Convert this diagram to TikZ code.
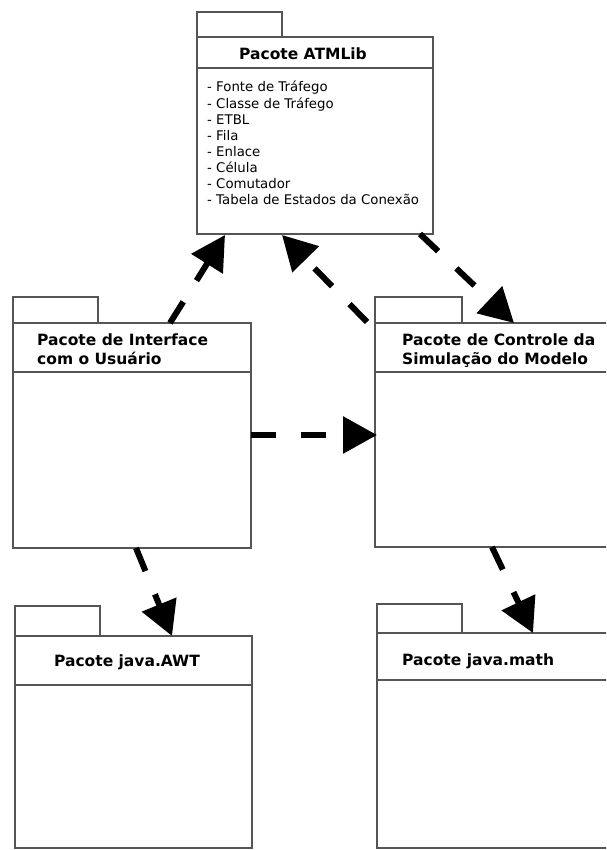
\documentclass[tikz,border=0pt]{standalone}
\usepackage{fontspec}
\setmainfont{DejaVu Sans}
\usetikzlibrary{arrows.meta}
\definecolor{boxgray}{HTML}{555555}

\begin{document}
\begin{tikzpicture}[x=1pt,y=-1pt,
  pkg/.style={draw=boxgray,line width=1.3pt,fill=white},
  sep/.style={draw=boxgray,line width=1.3pt},
  dep/.style={line width=6pt,dash pattern=on 25pt off 25pt,
    -{Triangle[length=34pt,width=36pt]}},
  ttl/.style={font=\bfseries\fontsize{15.5}{20}\selectfont,inner sep=0pt},
  itm/.style={font=\fontsize{13.3}{16}\selectfont,inner sep=0pt,anchor=base west}]

\clip (0,0) rectangle (606,850);
\fill[white] (0,0) rectangle (606,850);

% --- Pacote ATMLib ---
\draw[pkg] (197,12) rectangle (282,37);
\draw[pkg] (197,37) rectangle (433,234);
\draw[sep] (197,68) -- (433,68);
\node[ttl,anchor=base] (atmT) at (303,60) {Pacote ATMLib};
\foreach \t [count=\i from 0] in {Fonte de Tráfego,Classe de Tráfego,ETBL,Fila,Enlace,Célula,Comutador,Tabela de Estados da Conexão}
  \node[itm] (atmL\i) at (207,92+16.1*\i) {- \t};

% --- Pacote de Interface com o Usuário ---
\draw[pkg] (13,297) rectangle (98,323);
\draw[pkg] (13,323) rectangle (251,548);
\draw[sep] (13,372) -- (251,372);
\node[ttl,anchor=base west] (ifT1) at (37,345) {Pacote de Interface};
\node[ttl,anchor=base west] (ifT2) at (37,364) {com o Usuário};

% --- Pacote de Controle da Simulação do Modelo ---
\draw[pkg] (375,297) rectangle (462,323);
\draw[pkg] (375,323) rectangle (620,547);
\draw[sep] (375,372) -- (620,372);
\node[ttl,anchor=base west] (ctT1) at (402,345) {Pacote de Controle da};
\node[ttl,anchor=base west] (ctT2) at (402,364) {Simulação do Modelo};

% --- Pacote java.AWT ---
\draw[pkg] (15,606) rectangle (100,636);
\draw[pkg] (15,636) rectangle (252,848);
\draw[sep] (15,685) -- (252,685);
\node[ttl,anchor=base] (awtT) at (127,666) {Pacote java.AWT};

% --- Pacote java.math ---
\draw[pkg] (377,604) rectangle (462,633);
\draw[pkg] (377,633) rectangle (620,848);
\draw[sep] (377,680) -- (620,680);
\node[ttl,anchor=base west] (mthT) at (402,665) {Pacote java.math};

% --- connector end points ---
\coordinate (ifUp)   at (170,323);
\coordinate (atmIn1) at (225,235);
\coordinate (ctUp)   at (367,322);
\coordinate (atmIn2) at (282,235);
\coordinate (atmOut) at (420,234);
\coordinate (ctIn)   at (514,323);
\coordinate (ifRt)   at (251,435);
\coordinate (ctLf)   at (377,435);
\coordinate (ifDn)   at (136,548);
\coordinate (awtIn)  at (172,636);
\coordinate (ctDn)   at (492,547);
\coordinate (mthIn)  at (533,633);

% --- dependencies ---
\draw[dep] (ifUp) -- (atmIn1);
\draw[dep] (ctUp) -- (atmIn2);
\draw[dep] (atmOut) -- (ctIn);
\draw[dep] (ifRt) -- (ctLf);
\draw[dep] (ifDn) -- (awtIn);
\draw[dep] (ctDn) -- (mthIn);
\end{tikzpicture}
\end{document}
